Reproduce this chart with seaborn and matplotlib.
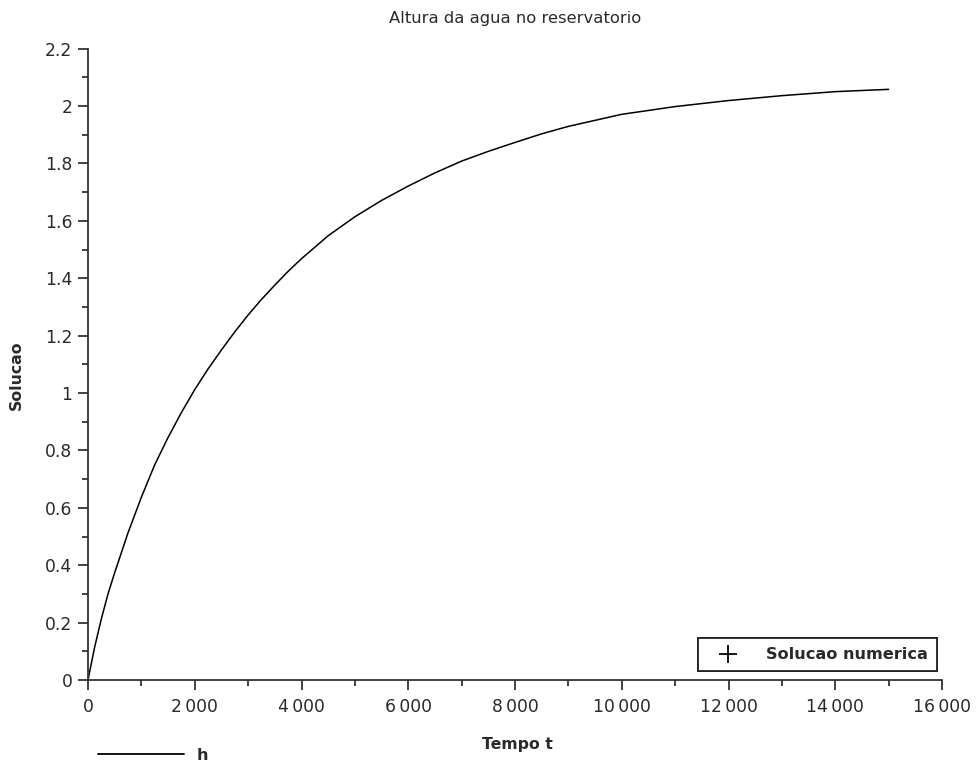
import matplotlib
matplotlib.use("Agg")
import matplotlib.pyplot as plt
import seaborn as sns
import pandas as pd
from matplotlib.lines import Line2D
from matplotlib.ticker import MultipleLocator, FixedLocator

# ---- data ----
tempo = [0, 125, 250, 375, 500, 750, 1000, 1250, 1500, 1750, 2000, 2250, 2500, 2750,
         3000, 3250, 3500, 3750, 4000, 4500, 5000, 5500, 6000, 6500, 7000, 7500,
         8000, 8500, 9000, 10000, 11000, 12000, 13000, 14000, 15000]
altura = [0.0, 0.115, 0.213, 0.300, 0.374, 0.513, 0.637, 0.750, 0.845, 0.932, 1.012,
          1.084, 1.150, 1.213, 1.272, 1.326, 1.376, 1.424, 1.468, 1.548, 1.614, 1.671,
          1.721, 1.767, 1.808, 1.842, 1.873, 1.903, 1.929, 1.971, 1.998, 2.019, 2.036,
          2.050, 2.058]

xticks = [0, 2000, 4000, 6000, 8000, 10000, 12000, 14000, 16000]
xtick_labels = ["0", "2\u2009000", "4\u2009000", "6\u2009000", "8\u2009000",
                "10\u2009000", "12\u2009000", "14\u2009000", "16\u2009000"]
yticks = [0, 0.2, 0.4, 0.6, 0.8, 1.0, 1.2, 1.4, 1.6, 1.8, 2.0, 2.2]
ytick_labels = ["0", "0.2", "0.4", "0.6", "0.8", "1", "1.2", "1.4", "1.6", "1.8", "2", "2.2"]

title = "Altura da agua no reservatorio"
xlabel = "Tempo t"
ylabel = "Solucao"
legend_marker_label = "Solucao numerica"
legend_line_label = "h"

df = pd.DataFrame({"t": tempo, "h": altura})

sns.set_style("ticks")
plt.rcParams["font.family"] = ["DejaVu Sans"]
txt = "#2a2a2a"
axc = "#333333"

fig = plt.figure(figsize=(9.76, 7.66), dpi=100)
ax = fig.add_axes([88 / 976, 1 - 680 / 766, (942 - 88) / 976, (680 - 48.6) / 766])

sns.lineplot(data=df, x="t", y="h", ax=ax, color="black", lw=1.1)

ax.set_xlim(0, 16000)
ax.set_ylim(0, 2.2)
ax.xaxis.set_major_locator(FixedLocator(xticks))
ax.set_xticklabels(xtick_labels)
ax.yaxis.set_major_locator(FixedLocator(yticks))
ax.set_yticklabels(ytick_labels)
ax.xaxis.set_minor_locator(MultipleLocator(1000))
ax.yaxis.set_minor_locator(MultipleLocator(0.1))

for s in ["top", "right"]:
    ax.spines[s].set_visible(False)
for s in ["left", "bottom"]:
    ax.spines[s].set_color(axc)
    ax.spines[s].set_linewidth(1.3)

ax.tick_params(which="major", length=7.2, width=1.3, color=axc,
               labelsize=12.3, labelcolor=txt)
ax.tick_params(which="minor", length=4, width=1.3, color=axc)
ax.tick_params(axis="x", which="major", pad=6)
ax.tick_params(axis="y", which="major", pad=4)

ax.set_xlabel("")
ax.set_ylabel("")
fig.text(515 / 976, 1 - 18 / 766, title, ha="center", va="center",
         fontsize=11.8, color=txt)
fig.text(517 / 976, 1 - 745 / 766, xlabel, ha="center", va="center",
         fontsize=11.3, color=txt, fontweight="bold")
fig.text(16 / 976, 1 - 375 / 766, ylabel, ha="center", va="center",
         fontsize=11.3, color=txt, fontweight="bold", rotation=90)

# legend 1: marker inside axes
h1 = Line2D([], [], color="black", marker="+", linestyle="none",
            markersize=13, markeredgewidth=1.3)
leg1 = ax.legend([h1], [legend_marker_label], loc="lower right",
                 bbox_to_anchor=(937 / 976, 1 - 671 / 766),
                 bbox_transform=fig.transFigure, borderaxespad=0,
                 frameon=True, fancybox=False, edgecolor="#222222",
                 framealpha=1, prop={"size": 11.6, "weight": "bold"},
                 handlelength=2.6, handletextpad=1.1, borderpad=0.55,
                 labelcolor=txt)
leg1.get_frame().set_linewidth(1.3)
ax.add_artist(leg1)

# legend 2: line below the axes
h2 = Line2D([], [], color="black", lw=1.3)
leg2 = fig.legend([h2], [legend_line_label], loc="center left",
                  bbox_to_anchor=(98 / 976, 1 - 755 / 766),
                  borderaxespad=0, borderpad=0,
                  frameon=False, prop={"size": 11.5, "weight": "bold"},
                  handlelength=5.4, handletextpad=0.8, labelcolor=txt)

fig.savefig("out.png", dpi=100, facecolor="white")
